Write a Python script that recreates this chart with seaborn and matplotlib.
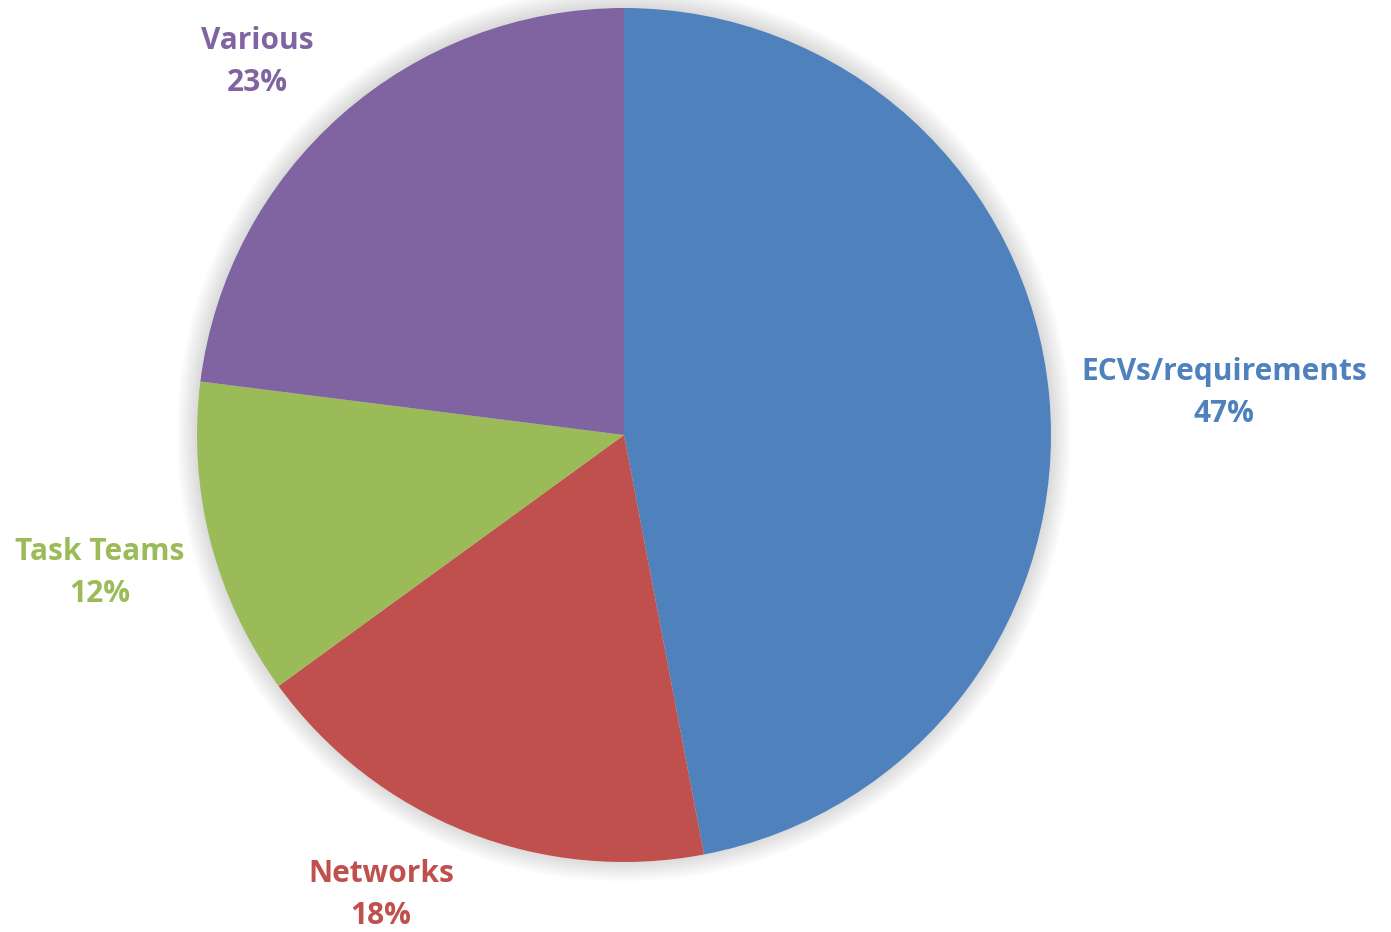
import matplotlib
matplotlib.use("Agg")
import matplotlib.pyplot as plt
import seaborn as sns
import numpy as np

sns.set_theme(style="white")
plt.rcParams['font.family'] = ['Open Sans', 'DejaVu Sans']

categories = ["ECVs/requirements", "Networks", "Task Teams", "Various"]
shares = [47, 18, 12, 23]
colors = ["#4F81BD", "#C0504D", "#9BBB59", "#8064A2"]

W, H = 1391, 932
cx, cy, R = 624, 435, 427

fig = plt.figure(figsize=(W / 100, H / 100), dpi=100)
ax = fig.add_axes([0, 0, 1, 1])

# soft drop shadow around the pie
for i in range(12):
    r = 1.0 + (i + 1) * 0.004
    ax.add_patch(plt.Circle((0, 0.002), r, color="black", alpha=0.012, lw=0, zorder=0))

ax.pie(shares, colors=colors, startangle=90, counterclock=False, radius=1.0,
       wedgeprops=dict(linewidth=0), center=(0, 0), frame=True)
ax.set_xlim(-cx / R, (W - cx) / R)
ax.set_ylim(-(H - cy) / R, cy / R)
ax.set_aspect("equal")
ax.axis("off")

# label anchor points in pixels (x, y from top)
label_px = [(1224, 393), (381, 895), (100, 573), (257, 62)]
for name, val, col, (px, py) in zip(categories, shares, colors, label_px):
    ax.text((px - cx) / R, (cy - py) / R, f"{name}\n{val}%", color=col,
            fontsize=21.5, fontweight="bold", ha="center", va="center",
            linespacing=1.55)

fig.savefig("out.png", dpi=100)
